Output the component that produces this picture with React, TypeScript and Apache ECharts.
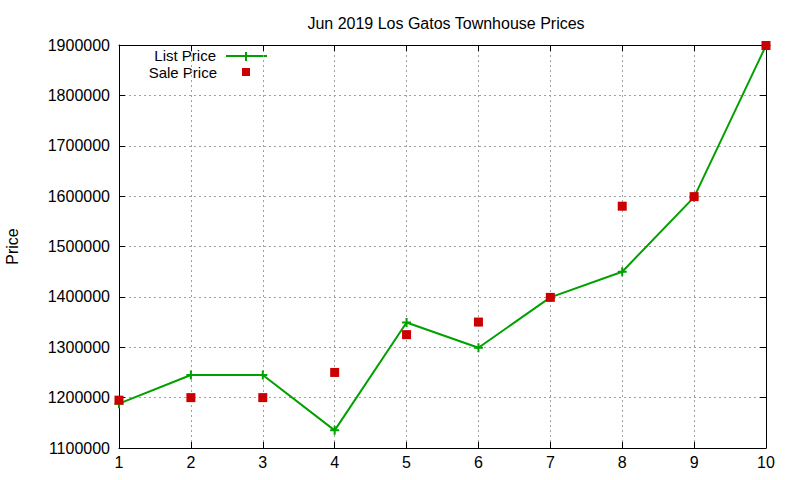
import React, { useEffect, useRef } from 'react';
import * as echarts from 'echarts';

const houses = [1, 2, 3, 4, 5, 6, 7, 8, 9, 10];
const listPrices = [1188000, 1245000, 1245000, 1135000, 1349000, 1299000, 1399000, 1450000, 1598000, 1899000];
const salePrices = [1195000, 1200000, 1200000, 1250000, 1325000, 1350000, 1399000, 1580000, 1599000, 1899000];

const GREEN = '#00a000';
const RED = '#cc0000';
const FONT = 'Liberation Sans, Arial, sans-serif';

const App: React.FC = () => {
  const chartRef = useRef<HTMLDivElement>(null);

  useEffect(() => {
    if (!chartRef.current) return;
    const chart = echarts.init(chartRef.current, undefined, { renderer: 'svg' });

    const gridLine = { show: true, lineStyle: { color: '#a0a0a0', type: [2, 3] as any, width: 1 } };
    const axisLine = { show: true, lineStyle: { color: '#000', width: 1 } };
    const ticks = { show: true, inside: true, length: 6, lineStyle: { color: '#000' } };

    const option = {
      animation: false,
      backgroundColor: '#fff',
      textStyle: { fontFamily: FONT },
      title: {
        text: 'Jun 2019 Los Gatos Townhouse Prices',
        left: 441,
        top: 10,
        textAlign: 'center',
        textStyle: { fontSize: 16, fontWeight: 'normal', color: '#000', fontFamily: FONT }
      },
      grid: { left: 119, right: 34, top: 45, bottom: 32, outerBoundsMode: 'none', containLabel: false },
      xAxis: [
        {
          type: 'value',
          min: 1,
          max: 10,
          interval: 1,
          axisLine,
          axisTick: ticks,
          axisLabel: { color: '#000', fontSize: 16, margin: 6, fontFamily: FONT },
          splitLine: gridLine
        },
        {
          type: 'value',
          position: 'top',
          min: 1,
          max: 10,
          interval: 1,
          axisLine,
          axisTick: ticks,
          axisLabel: { show: false },
          splitLine: { show: false }
        }
      ],
      yAxis: [
        {
          type: 'value',
          min: 1100000,
          max: 1900000,
          interval: 100000,
          name: 'Price',
          nameLocation: 'middle',
          nameGap: 99,
          nameRotate: 90,
          nameTextStyle: { color: '#000', fontSize: 16, fontFamily: FONT },
          axisLine,
          axisTick: ticks,
          axisLabel: { color: '#000', fontSize: 16, margin: 9, fontFamily: FONT, formatter: (v: number) => String(v) },
          splitLine: gridLine
        },
        {
          type: 'value',
          position: 'right',
          min: 1100000,
          max: 1900000,
          interval: 100000,
          axisLine,
          axisTick: ticks,
          axisLabel: { show: false },
          splitLine: { show: false }
        }
      ],
      series: [
        {
          name: 'List Price',
          type: 'line',
          data: houses.map((h, i) => [h, listPrices[i]]),
          symbol: 'path://M0,5L10,5M5,0L5,10',
          symbolSize: 9,
          showSymbol: true,
          lineStyle: { color: GREEN, width: 2 },
          itemStyle: { color: GREEN, borderColor: GREEN, borderWidth: 2 },
          z: 2
        },
        {
          name: 'Sale Price',
          type: 'scatter',
          data: houses.map((h, i) => [h, salePrices[i]]),
          symbol: 'rect',
          symbolSize: 9,
          itemStyle: { color: RED, opacity: 1 },
          z: 3
        }
      ],
      graphic: [
        {
          type: 'text',
          x: 216,
          y: 55,
          style: { text: 'List Price', textAlign: 'right', textVerticalAlign: 'middle', fill: '#000', font: `15px ${FONT}` }
        },
        {
          type: 'line',
          shape: { x1: 226, y1: 56, x2: 267, y2: 56 },
          style: { stroke: GREEN, lineWidth: 2 }
        },
        {
          type: 'line',
          shape: { x1: 246, y1: 52, x2: 246, y2: 61 },
          style: { stroke: GREEN, lineWidth: 2 }
        },
        {
          type: 'text',
          x: 217,
          y: 72,
          style: { text: 'Sale Price', textAlign: 'right', textVerticalAlign: 'middle', fill: '#000', font: `15px ${FONT}` }
        },
        {
          type: 'rect',
          shape: { x: 242, y: 68, width: 8, height: 8 },
          style: { fill: RED }
        }
      ]
    };

    chart.setOption(option as any);
    return () => {
      chart.dispose();
    };
  }, []);

  return <div ref={chartRef} style={{ width: 800, height: 480, position: 'fixed', left: 0, top: 0 }} />;
};

export default App;
